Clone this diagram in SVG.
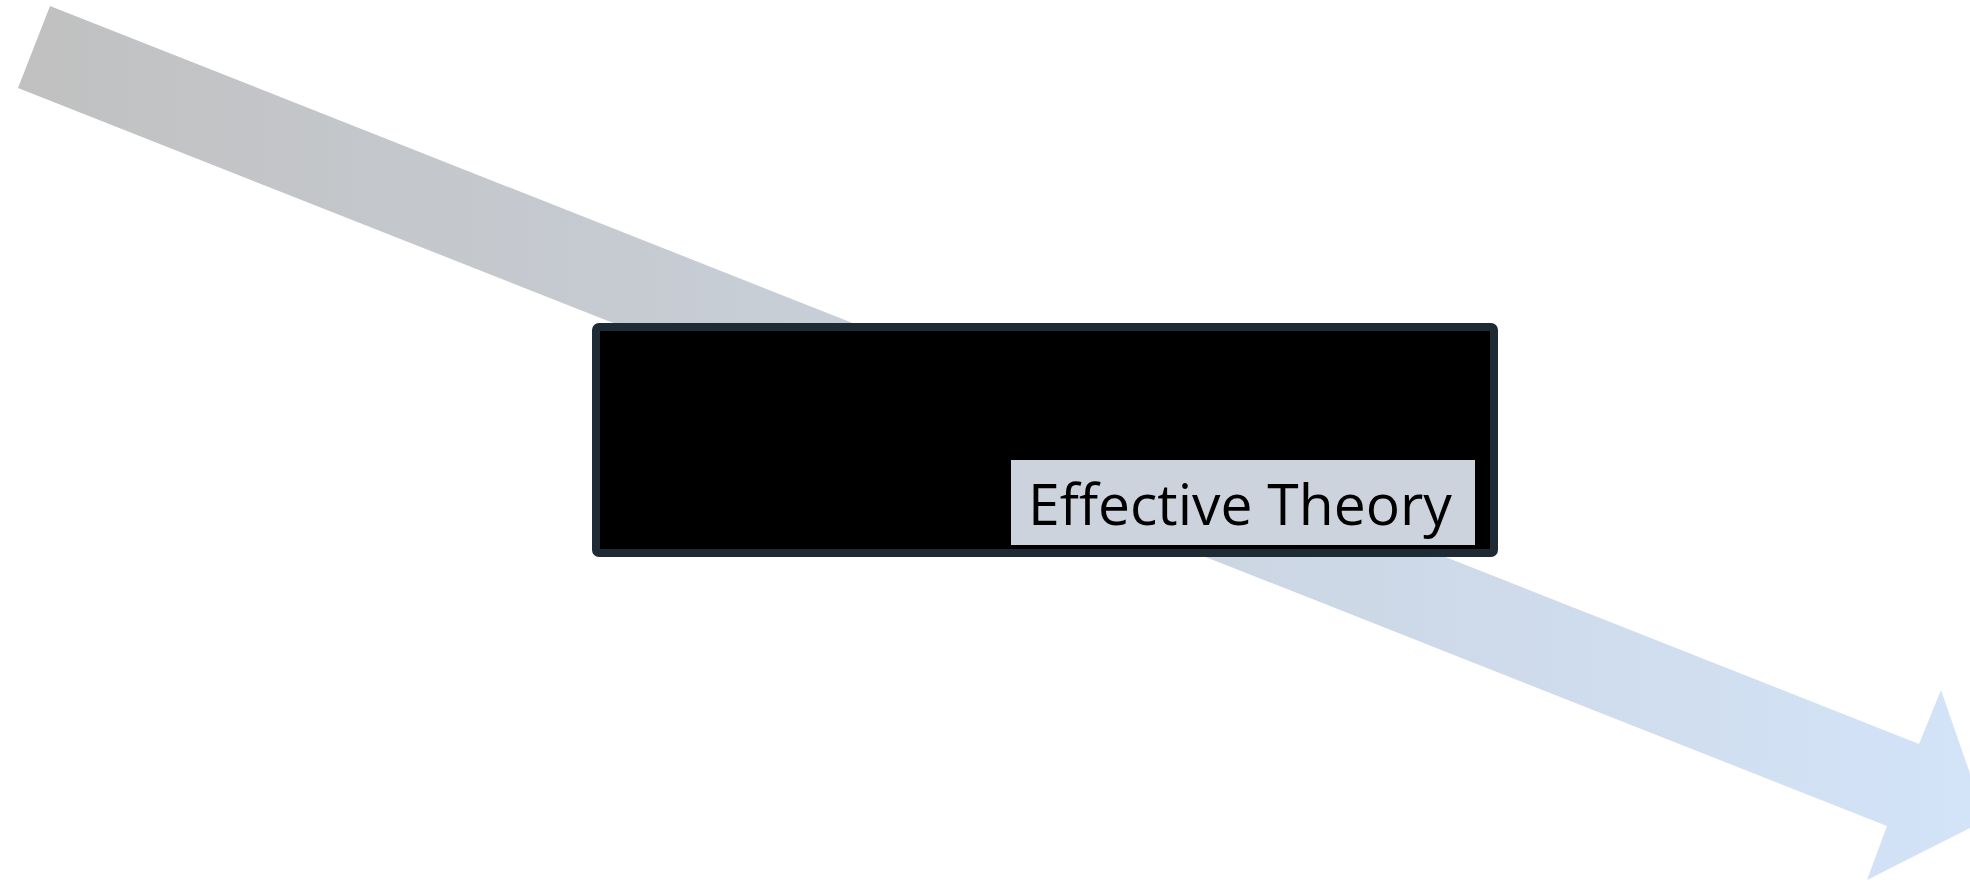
<svg xmlns="http://www.w3.org/2000/svg" width="1970" height="884" viewBox="0 0 1970 884">
<style>
.box{fill:#000000;stroke:#1e2b34;stroke-width:8}
.lbl{fill:#ccd3dc}
.txt{font-family:"Open Sans","Noto Sans",sans-serif;font-size:57px;fill:#000000}
</style>
<defs>
<linearGradient id="ag" gradientUnits="userSpaceOnUse" x1="0" y1="0" x2="1970" y2="0">
<stop offset="0" stop-color="#c0c0c0"/>
<stop offset="1" stop-color="#d3e3f8"/>
</linearGradient>
</defs>
<rect width="1970" height="884" fill="#ffffff"/>
<g id="connectors">
<polygon points="50,6 18,88 1887,826 1867,880 1986,820 1941,690 1919,744" fill="url(#ag)"/>
</g>
<g id="node-effective-theory">
<rect class="box" x="596" y="327" width="898" height="226" rx="3"/>
<rect class="lbl" x="1011" y="460" width="464" height="85"/>
<text class="txt" x="1028" y="525">Effective Theory</text>
</g>
</svg>
